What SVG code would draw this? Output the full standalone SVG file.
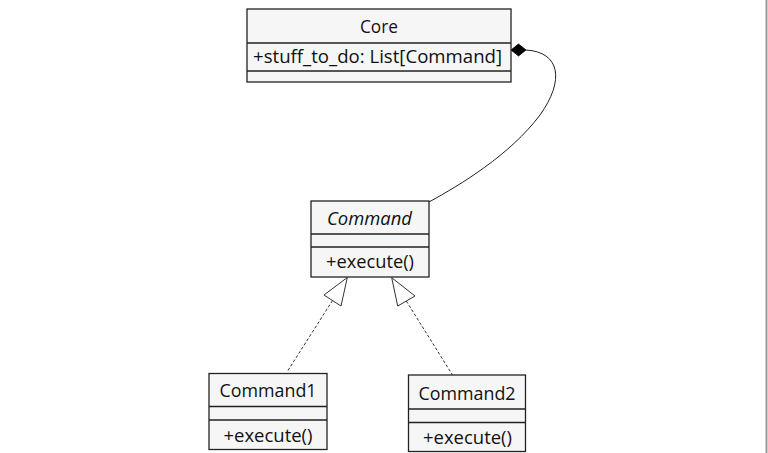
<svg xmlns="http://www.w3.org/2000/svg" width="768" height="453" viewBox="0 0 768 453">
<style>
.box{fill:#f6f6f6;stroke:#222;stroke-width:1.3}
.div{stroke:#222;stroke-width:1.3}
.t{font-family:"Open Sans","Noto Sans","DejaVu Sans",sans-serif;font-size:18px;fill:#111;text-anchor:middle}
.l{font-family:"Open Sans","Noto Sans","DejaVu Sans",sans-serif;font-size:18px;fill:#111;text-anchor:start}
.dash{fill:none;stroke:#333;stroke-width:1;stroke-dasharray:3,2}
.tri{fill:#fff;stroke:#333;stroke-width:1}
</style>
<rect x="0" y="0" width="768" height="453" fill="#fff"/>
<line x1="766.5" y1="0" x2="766.5" y2="453" stroke="#999" stroke-width="2"/>
<g id="connectors">
<path d="M526,50 C560,52 565,80 540,115 C510,155 460,185 429,202" fill="none" stroke="#222" stroke-width="1"/>
<polygon points="511,50 518.5,44 526,50 518.5,56" fill="#000" stroke="#000" stroke-width="0.8"/>
<line class="dash" x1="332.5" y1="300.5" x2="287" y2="372"/>
<polygon class="tri" points="347.3,277.5 324,295 341,306"/>
<line class="dash" x1="406.3" y1="301" x2="452.5" y2="375"/>
<polygon class="tri" points="391.7,277.7 415,296 397.7,306"/>
</g>
<g id="core">
<rect class="box" x="247" y="9" width="264" height="73"/>
<line class="div" x1="247" y1="43" x2="511" y2="43"/>
<line class="div" x1="247" y1="71" x2="511" y2="71"/>
<text class="t" x="379" y="33" textLength="38" lengthAdjust="spacingAndGlyphs">Core</text>
<text class="l" x="253" y="63" textLength="249" lengthAdjust="spacingAndGlyphs">+stuff_to_do: List[Command]</text>
</g>
<g id="command">
<rect class="box" x="311" y="201" width="118" height="76"/>
<line class="div" x1="311" y1="234" x2="429" y2="234"/>
<line class="div" x1="311" y1="247" x2="429" y2="247"/>
<text class="t" x="369.5" y="225" font-style="italic" textLength="85" lengthAdjust="spacingAndGlyphs">Command</text>
<text class="t" x="370" y="268" textLength="88" lengthAdjust="spacingAndGlyphs">+execute()</text>
</g>
<g id="command1">
<rect class="box" x="209" y="373.5" width="118" height="76"/>
<line class="div" x1="209" y1="406.5" x2="327" y2="406.5"/>
<line class="div" x1="209" y1="420" x2="327" y2="420"/>
<text class="t" x="268" y="397" textLength="97" lengthAdjust="spacingAndGlyphs">Command1</text>
<text class="t" x="268" y="442" textLength="89" lengthAdjust="spacingAndGlyphs">+execute()</text>
</g>
<g id="command2">
<rect class="box" x="408.5" y="375" width="117" height="76.5"/>
<line class="div" x1="408.5" y1="409" x2="525.5" y2="409"/>
<line class="div" x1="408.5" y1="422.5" x2="525.5" y2="422.5"/>
<text class="t" x="467" y="399.5" textLength="97" lengthAdjust="spacingAndGlyphs">Command2</text>
<text class="t" x="467.5" y="443.5" textLength="89" lengthAdjust="spacingAndGlyphs">+execute()</text>
</g>
</svg>
